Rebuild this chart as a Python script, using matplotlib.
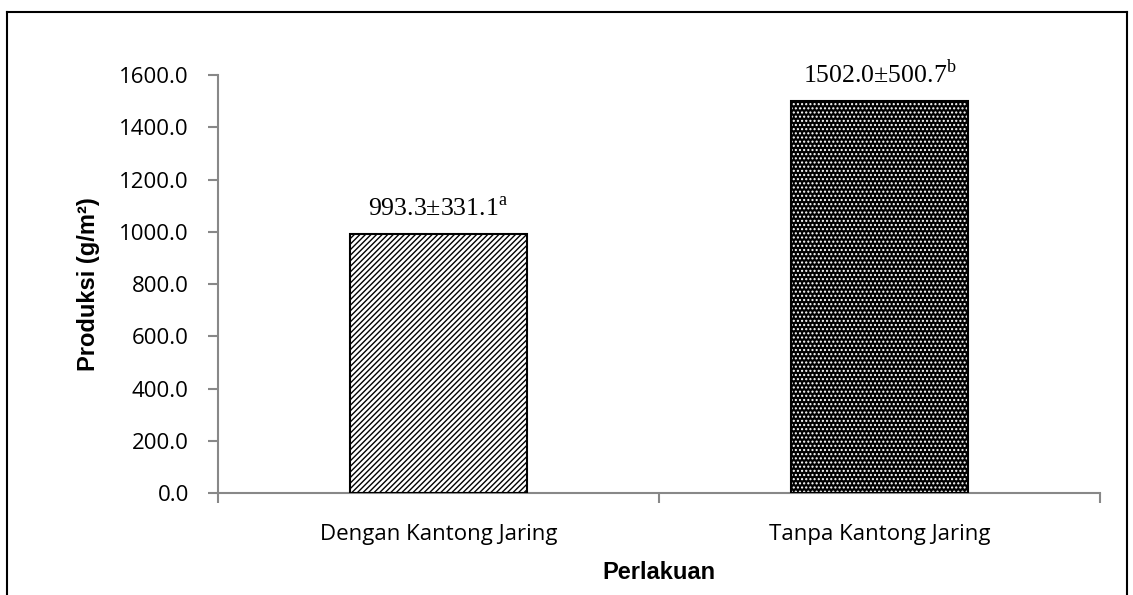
import matplotlib
matplotlib.use("Agg")
import matplotlib.pyplot as plt
from matplotlib.lines import Line2D

categories = ["Dengan Kantong Jaring", "Tanpa Kantong Jaring"]
means = [993.3, 1502.0]
sds = [331.1, 500.7]
letters = ["a", "b"]
yticks = [0, 200, 400, 600, 800, 1000, 1200, 1400, 1600]

plt.rcParams['mathtext.fontset'] = 'custom'
plt.rcParams['mathtext.rm'] = 'Liberation Serif'
plt.rcParams['hatch.linewidth'] = 1.0

fig = plt.figure(figsize=(11.33, 5.95), dpi=100)
ax = fig.add_axes([218/1133, 1-493/595, (1100-218)/1133, (493-75)/595])

x = [0, 1]
w = 0.4
# bar 1: diagonal hatch
ax.bar(x[0], means[0], width=w, color='white', edgecolor='black', hatch='//////', linewidth=0, zorder=2)
# bar 2: dark with white dots
ax.bar(x[1], means[1], width=w, color='black', edgecolor='white', hatch='....', linewidth=0, zorder=2)
ax.bar(x, means, width=w, fill=False, edgecolor='black', linewidth=1.5, zorder=3)

for xi, m, s, l in zip(x, means, sds, letters):
    ax.annotate(f"{m:.1f}±{s:.1f}" + r"$^{\mathrm{" + l + r"}}$", (xi, m), xytext=(0, 9),
                textcoords='offset points', ha='center', va='bottom',
                fontsize=18.5, family='Liberation Serif')

ax.set_xlim(-0.5, 1.5)
ax.set_ylim(0, 1600)
ax.set_yticks(yticks)
ax.set_yticklabels([f"{v:.1f}" for v in yticks], fontsize=16, family='Open Sans')
ax.set_xticks(x)
ax.set_xticklabels(categories, fontsize=16, family='Open Sans')
ax.tick_params(axis='x', length=0, pad=22)
ax.set_xticks([-0.5, 0.5, 1.5], minor=True)
ax.tick_params(axis='x', which='minor', length=7, color='#888888', width=1.5)
ax.tick_params(axis='y', length=7, color='#888888', width=1.5, pad=14)

for sp in ['top', 'right']:
    ax.spines[sp].set_visible(False)
for sp in ['left', 'bottom']:
    ax.spines[sp].set_color('#888888')
    ax.spines[sp].set_linewidth(1.5)

ax.set_ylabel("Produksi (g/m²)", fontsize=17, fontweight='bold', family='Liberation Sans', labelpad=14)
ax.set_xlabel("Perlakuan", fontsize=17, fontweight='bold', family='Liberation Sans', labelpad=12)

# outer border
fx0, fx1, fy1 = 7/1133, 1127/1133, 1-12/595
fig.add_artist(Line2D([fx0, fx0], [0, fy1], transform=fig.transFigure, color='black', lw=1.5))
fig.add_artist(Line2D([fx0, fx1], [fy1, fy1], transform=fig.transFigure, color='black', lw=1.5))
fig.add_artist(Line2D([fx1, fx1], [0, fy1], transform=fig.transFigure, color='black', lw=1.5))

fig.savefig("out.png", dpi=100)
